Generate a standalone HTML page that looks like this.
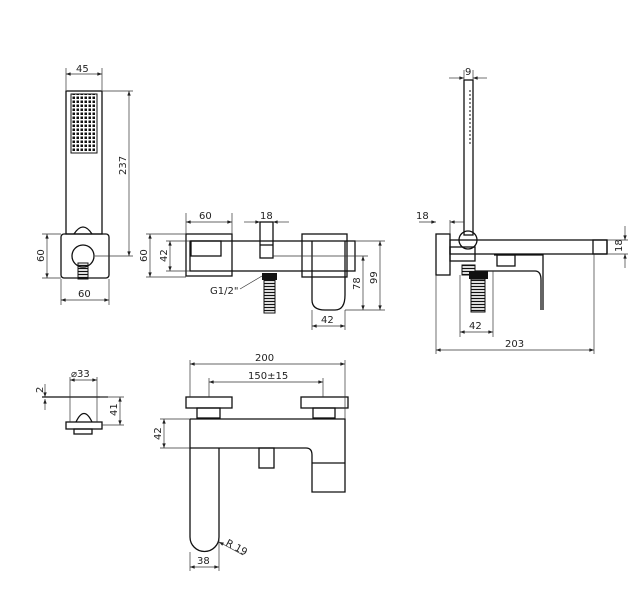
<!DOCTYPE html>
<html><head><meta charset="utf-8"><style>
html,body{margin:0;padding:0;background:#fff}
svg{display:block}
text{font-family:"DejaVu Sans","Liberation Sans",sans-serif;font-size:10px;fill:#222}
.o{fill:none;stroke:#111;stroke-width:1.3}
.d{fill:none;stroke:#333;stroke-width:0.7}
</style></head><body>
<svg width="635" height="597" viewBox="0 0 635 597" xmlns="http://www.w3.org/2000/svg">
<defs>
<marker id="a" viewBox="0 0 8 6" refX="8" refY="3" markerWidth="7" markerHeight="5" orient="auto-start-reverse"><path d="M0,0 L8,3 L0,6z" fill="#222"/></marker>
<pattern id="dots" width="4" height="4" patternUnits="userSpaceOnUse"><rect x="0.5" y="0.5" width="2.5" height="2.5" fill="#111"/></pattern>
<pattern id="thr" width="4" height="3" patternUnits="userSpaceOnUse"><line x1="0" y1="1.5" x2="4" y2="1.5" stroke="#111" stroke-width="1.3"/></pattern>
</defs>

<!-- Hand shower -->
<rect class="o" x="66" y="91" width="36" height="143"/>
<rect x="71" y="94" width="26" height="59" fill="url(#dots)" stroke="#111"/>
<rect class="o" x="61" y="234" width="48" height="44" rx="3"/>
<path class="o" d="M74,234 Q83,220 92,234"/>
<circle class="o" cx="83" cy="256" r="11"/>
<rect x="78" y="263" width="10" height="16" fill="url(#thr)" stroke="#111"/>
<line class="d" x1="66" y1="68" x2="66" y2="90"/><line class="d" x1="102" y1="68" x2="102" y2="90"/>
<line class="d" x1="66" y1="74" x2="102" y2="74" marker-start="url(#a)" marker-end="url(#a)"/>
<text x="76" y="72">45</text>
<line class="d" x1="102" y1="91" x2="133" y2="91"/><line class="d" x1="95" y1="256" x2="133" y2="256"/>
<line class="d" x1="129" y1="91" x2="129" y2="256" marker-start="url(#a)" marker-end="url(#a)"/>
<text transform="translate(126,175) rotate(-90)">237</text>
<line class="d" x1="42" y1="234" x2="61" y2="234"/><line class="d" x1="42" y1="278" x2="61" y2="278"/>
<line class="d" x1="47" y1="234" x2="47" y2="278" marker-start="url(#a)" marker-end="url(#a)"/>
<text transform="translate(44,262) rotate(-90)">60</text>
<line class="d" x1="61" y1="279" x2="61" y2="305"/><line class="d" x1="109" y1="279" x2="109" y2="305"/>
<line class="d" x1="61" y1="300" x2="109" y2="300" marker-start="url(#a)" marker-end="url(#a)"/>
<text x="78" y="297">60</text>

<!-- Front view -->
<rect class="o" x="186" y="234" width="46" height="42"/>
<rect class="o" x="190" y="241" width="165" height="30"/>
<rect class="o" x="191" y="241" width="30" height="15"/>
<rect class="o" x="302" y="234" width="45" height="43"/>
<path class="o" d="M312,241 V300 Q312,310 325,310 H335 Q345,310 345,295 V241" fill="#fff"/>
<rect class="o" x="260" y="222" width="13" height="36" fill="#fff"/>
<line class="o" x1="260" y1="245" x2="273" y2="245"/>
<rect x="262" y="273" width="15" height="7" fill="#111"/>
<rect x="264" y="280" width="11" height="33" fill="url(#thr)" stroke="#111"/>
<line class="d" x1="186" y1="213" x2="186" y2="234"/><line class="d" x1="232" y1="213" x2="232" y2="234"/>
<line class="d" x1="186" y1="222" x2="232" y2="222" marker-start="url(#a)" marker-end="url(#a)"/>
<text x="199" y="219">60</text>
<line class="d" x1="244" y1="222" x2="260" y2="222" marker-end="url(#a)"/><line class="d" x1="289" y1="222" x2="273" y2="222" marker-end="url(#a)"/>
<text x="260" y="219">18</text>
<line class="d" x1="146" y1="234" x2="186" y2="234"/><line class="d" x1="146" y1="277" x2="186" y2="277"/>
<line class="d" x1="150" y1="234" x2="150" y2="277" marker-start="url(#a)" marker-end="url(#a)"/>
<text transform="translate(147,262) rotate(-90)">60</text>
<line class="d" x1="166" y1="241" x2="190" y2="241"/><line class="d" x1="166" y1="271" x2="190" y2="271"/>
<line class="d" x1="170" y1="241" x2="170" y2="271" marker-start="url(#a)" marker-end="url(#a)"/>
<text transform="translate(167,262) rotate(-90)">42</text>
<line class="d" x1="355" y1="241" x2="385" y2="241"/><line class="d" x1="273" y1="256" x2="368" y2="256"/><line class="d" x1="345" y1="310" x2="385" y2="310"/>
<line class="d" x1="380" y1="241" x2="380" y2="310" marker-start="url(#a)" marker-end="url(#a)"/>
<line class="d" x1="363" y1="256" x2="363" y2="310" marker-start="url(#a)" marker-end="url(#a)"/>
<text transform="translate(377,284) rotate(-90)">99</text>
<text transform="translate(360,290) rotate(-90)">78</text>
<line class="d" x1="312" y1="310" x2="312" y2="330"/><line class="d" x1="345" y1="310" x2="345" y2="330"/>
<line class="d" x1="312" y1="326" x2="345" y2="326" marker-start="url(#a)" marker-end="url(#a)"/>
<text x="321" y="323">42</text>
<text x="210" y="294">G1/2"</text>
<line class="d" x1="240" y1="289" x2="262" y2="276"/>

<!-- Side view -->
<rect class="o" x="464" y="80" width="9" height="155"/>
<line x1="470" y1="90" x2="470" y2="145" stroke="#111" stroke-width="1" stroke-dasharray="2,2"/>
<rect class="o" x="436" y="234" width="14" height="41"/>
<rect class="o" x="450" y="240" width="157" height="14"/>
<rect class="o" x="593" y="240" width="14" height="14"/>
<circle class="o" cx="468" cy="240" r="9" fill="#fff"/>
<rect class="o" x="450" y="247" width="25" height="14"/>
<rect class="o" x="497" y="255" width="18" height="11"/>
<path class="o" d="M494,255 H543 V310"/>
<path class="o" d="M530,271 H535 Q541,271 541,280 V310"/>
<line class="o" x1="475" y1="271" x2="530" y2="271"/>
<rect x="462" y="265" width="13" height="10" fill="url(#thr)" stroke="#111"/>
<rect x="469" y="271" width="19" height="8" fill="#111"/>
<rect x="471" y="279" width="14" height="33" fill="url(#thr)" stroke="#111"/>
<line class="d" x1="464" y1="70" x2="464" y2="80"/><line class="d" x1="473" y1="70" x2="473" y2="80"/>
<line class="d" x1="449" y1="78" x2="464" y2="78" marker-end="url(#a)"/><line class="d" x1="487" y1="78" x2="473" y2="78" marker-end="url(#a)"/>
<text x="465" y="75">9</text>
<line class="d" x1="419" y1="222" x2="436" y2="222" marker-end="url(#a)"/><line class="d" x1="464" y1="222" x2="450" y2="222" marker-end="url(#a)"/>
<line class="d" x1="450" y1="220" x2="450" y2="234"/>
<text x="416" y="219">18</text>
<line class="d" x1="607" y1="240" x2="628" y2="240"/><line class="d" x1="607" y1="254" x2="628" y2="254"/>
<line class="d" x1="625" y1="226" x2="625" y2="240" marker-end="url(#a)"/><line class="d" x1="625" y1="268" x2="625" y2="254" marker-end="url(#a)"/>
<text transform="translate(622,252) rotate(-90)">18</text>
<line class="d" x1="460" y1="275" x2="460" y2="337"/><line class="d" x1="493" y1="271" x2="493" y2="337"/>
<line class="d" x1="460" y1="332" x2="493" y2="332" marker-start="url(#a)" marker-end="url(#a)"/>
<text x="469" y="329">42</text>
<line class="d" x1="436" y1="275" x2="436" y2="354"/><line class="d" x1="594" y1="254" x2="594" y2="354"/>
<line class="d" x1="436" y1="350" x2="594" y2="350" marker-start="url(#a)" marker-end="url(#a)"/>
<text x="505" y="347">203</text>

<!-- Flange top view -->
<line class="o" x1="42" y1="397" x2="108" y2="397"/>
<rect class="o" x="66" y="422" width="36" height="7"/>
<path class="o" d="M76,422 Q84,405 92,422"/>
<rect class="o" x="74" y="429" width="18" height="5"/>
<line class="d" x1="70" y1="377" x2="70" y2="422"/><line class="d" x1="97" y1="377" x2="97" y2="422"/>
<line class="d" x1="70" y1="380" x2="97" y2="380" marker-start="url(#a)" marker-end="url(#a)"/>
<text x="71" y="377">⌀33</text>
<line class="d" x1="100" y1="397" x2="124" y2="397"/><line class="d" x1="102" y1="425" x2="124" y2="425"/>
<line class="d" x1="120" y1="397" x2="120" y2="425" marker-start="url(#a)" marker-end="url(#a)"/>
<text transform="translate(117,416) rotate(-90)">41</text>
<line class="d" x1="45" y1="384" x2="45" y2="397" marker-end="url(#a)"/><line class="d" x1="45" y1="410" x2="45" y2="399" marker-end="url(#a)"/>
<text transform="translate(43,393) rotate(-90)">2</text>

<!-- Plan view -->
<rect class="o" x="186" y="397" width="46" height="11"/>
<rect class="o" x="197" y="408" width="23" height="10"/>
<rect class="o" x="301" y="397" width="47" height="11"/>
<rect class="o" x="313" y="408" width="22" height="10"/>
<path class="o" d="M190,419 H345 V450 M190,419 V448 H306 Q312,448 312,455 V492 H345 V450"/>
<line class="o" x1="312" y1="463" x2="345" y2="463"/>
<path class="o" d="M190,448 V537 A14.5,14.5 0 0 0 219,537 V448"/>
<rect class="o" x="259" y="448" width="15" height="20"/>
<line class="d" x1="190" y1="360" x2="190" y2="397"/><line class="d" x1="345" y1="360" x2="345" y2="419"/>
<line class="d" x1="190" y1="364" x2="345" y2="364" marker-start="url(#a)" marker-end="url(#a)"/>
<text x="255" y="361">200</text>
<line class="d" x1="209" y1="378" x2="209" y2="397"/><line class="d" x1="323" y1="378" x2="323" y2="397"/>
<line class="d" x1="209" y1="382" x2="323" y2="382" marker-start="url(#a)" marker-end="url(#a)"/>
<text x="248" y="379">150±15</text>
<line class="d" x1="160" y1="419" x2="190" y2="419"/><line class="d" x1="160" y1="448" x2="190" y2="448"/>
<line class="d" x1="164" y1="419" x2="164" y2="448" marker-start="url(#a)" marker-end="url(#a)"/>
<text transform="translate(161,440) rotate(-90)">42</text>
<line class="d" x1="190" y1="552" x2="190" y2="571"/><line class="d" x1="219" y1="540" x2="219" y2="571"/>
<line class="d" x1="190" y1="567" x2="219" y2="567" marker-start="url(#a)" marker-end="url(#a)"/>
<text x="197" y="564">38</text>
<line class="d" x1="243" y1="555" x2="219" y2="542" marker-end="url(#a)"/>
<text transform="translate(225,545) rotate(28)">R 19</text>
</svg>
</body></html>
